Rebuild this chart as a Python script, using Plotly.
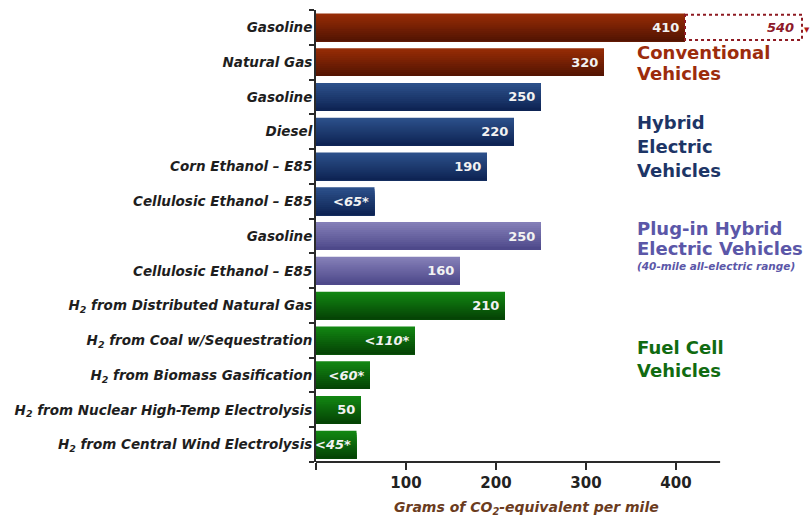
import plotly.graph_objects as go

# ---- data -------------------------------------------------------------
categories = [
    "Gasoline",
    "Natural Gas",
    "Gasoline",
    "Diesel",
    "Corn Ethanol – E85",
    "Cellulosic Ethanol – E85",
    "Gasoline",
    "Cellulosic Ethanol – E85",
    "H<sub>2</sub> from Distributed Natural Gas",
    "H<sub>2</sub> from Coal w/Sequestration",
    "H<sub>2</sub> from Biomass Gasification",
    "H<sub>2</sub> from Nuclear High-Temp Electrolysis",
    "H<sub>2</sub> from Central Wind Electrolysis",
]
values = [410, 320, 250, 220, 190, 65, 250, 160, 210, 110, 60, 50, 45]
value_labels = ["410", "320", "250", "220", "190", "<65*", "250", "160",
                "210", "<110*", "<60*", "50", "<45*"]
groups = ["conv", "conv", "hev", "hev", "hev", "hev", "phev", "phev",
          "fcv", "fcv", "fcv", "fcv", "fcv"]
gasoline_upper = 540          # upper estimate for conventional gasoline
x_ticks = [0, 100, 200, 300, 400]
x_tick_labels = ["", "100", "200", "300", "400"]

# ---- styling ----------------------------------------------------------
FONT = "DejaVu Sans, Verdana, sans-serif"
gradients = {                 # (top colour, bottom colour) of each bar family
    "conv": ((150, 44, 6), (84, 20, 2)),
    "hev": ((44, 80, 138), (14, 36, 84)),
    "phev": ((132, 127, 184), (78, 73, 138)),
    "fcv": ((18, 134, 18), (5, 68, 5)),
}
X_MAX = 550
AXIS_END = 449
BAR_W = 0.8
N_STRIPS = 14

y_pos = list(range(len(categories)))


def mix(c0, c1, t):
    return "rgb({},{},{})".format(*[round(a + (b - a) * t) for a, b in zip(c0, c1)])


fig = go.Figure()

# vertical shading: each strip starts lower and darker and runs to the bar bottom
for k in range(N_STRIPS):
    t = k / (N_STRIPS - 1)
    step = BAR_W / N_STRIPS
    fig.add_trace(go.Bar(
        x=values, y=y_pos, orientation="h",
        offset=-BAR_W / 2 + k * step, width=BAR_W - k * step,
        marker=dict(color=[mix(*gradients[g], t) for g in groups], line=dict(width=0)),
        hoverinfo="skip", showlegend=False,
    ))


def fmt(lbl):
    if lbl.startswith("<"):
        return "<i>" + lbl.replace("<", "&lt;") + "</i>"
    return lbl


# value labels inside the bar ends
fig.add_trace(go.Bar(
    x=values, y=y_pos, orientation="h", width=BAR_W,
    marker=dict(color="rgba(0,0,0,0)", line=dict(width=0)),
    text=[fmt(v) + "\u2009" for v in value_labels],
    textposition="inside", insidetextanchor="end", textangle=0,
    constraintext="none",
    textfont=dict(family=FONT, size=13, color="#f2f2f2", weight="bold"),
    cliponaxis=False, hoverinfo="skip", showlegend=False,
))

shapes = [
    # dotted extension showing the upper estimate for gasoline
    dict(type="rect", xref="x", yref="y", x0=values[0], x1=gasoline_upper,
         y0=-0.36, y1=0.36, line=dict(color="#8e1a22", width=2, dash="dot")),
    # x axis line, stopping short of the plot edge
    dict(type="line", xref="paper", yref="paper", x0=0, x1=AXIS_END / X_MAX,
         y0=0, y1=0, line=dict(color="#2a2a2a", width=2)),
]

annotations = [
    dict(x=gasoline_upper, y=0, xref="x", yref="y", xanchor="right", yanchor="middle",
         xshift=-6, text="<b><i>540</i></b>", showarrow=False,
         font=dict(family=FONT, size=13, color="#8e1a2a")),
    dict(x=gasoline_upper, y=0, xref="x", yref="y", xanchor="left", yanchor="middle",
         xshift=0, yshift=-3, text="▼", showarrow=False,
         font=dict(family=FONT, size=7, color="#b01818")),
    dict(x=0.426, y=-0.102, xref="paper", yref="paper", xanchor="center", yanchor="middle",
         text="Grams of CO<sub>2</sub>-equivalent per mile", showarrow=False,
         font=dict(family=FONT, size=14, color="#6b3c1e", weight="bold", style="italic")),
]

# group titles on the right (pixel rows converted to paper coordinates)
TOP_PX, BOT_PX, LEFT_PX, WIDTH_PX = 10, 462, 316, 495
group_titles = [
    ("Conventional", 53, "#9c2c0c", 18, "normal"),
    ("Vehicles", 73, "#9c2c0c", 18, "normal"),
    ("Hybrid", 122, "#1d3566", 18, "normal"),
    ("Electric", 146, "#1d3566", 18, "normal"),
    ("Vehicles", 170, "#1d3566", 18, "normal"),
    ("Plug-in Hybrid", 228, "#5b57a8", 18, "normal"),
    ("Electric Vehicles", 248, "#5b57a8", 18, "normal"),
    ("(40-mile all-electric range)", 266, "#5b57a8", 10.5, "italic"),
    ("Fuel Cell", 347, "#116b11", 18, "normal"),
    ("Vehicles", 370, "#116b11", 18, "normal"),
]
for txt, ypx, col, size, style in group_titles:
    annotations.append(dict(
        x=(635 - LEFT_PX) / WIDTH_PX, y=(BOT_PX - ypx) / (BOT_PX - TOP_PX),
        xref="paper", yref="paper", xanchor="left", yanchor="middle",
        text=txt, showarrow=False,
        font=dict(family=FONT, size=size, color=col, weight="bold", style=style),
    ))

fig.update_layout(
    width=811, height=519,
    margin=dict(l=316, r=0, t=10, b=57),
    paper_bgcolor="white", plot_bgcolor="white",
    barmode="overlay", bargap=0.2,
    shapes=shapes, annotations=annotations,
    xaxis=dict(
        range=[0, X_MAX], showgrid=False, zeroline=False, showline=False,
        tickmode="array", tickvals=x_ticks, ticktext=x_tick_labels,
        ticks="outside", ticklen=7, tickwidth=2, tickcolor="#2a2a2a",
        tickfont=dict(family=FONT, size=15, color="#222222", weight="bold"),
        fixedrange=True,
    ),
    yaxis=dict(
        range=[len(categories) - 0.5, -0.5], showgrid=False, zeroline=False,
        showline=True, linecolor="#2a2a2a", linewidth=2,
        tickmode="array", tickvals=y_pos, ticktext=categories, ticks="",
        minor=dict(tickvals=[i - 0.5 for i in range(len(categories) + 1)],
                   ticks="outside", ticklen=5, tickwidth=1.5, tickcolor="#2a2a2a"),
        tickfont=dict(family=FONT, size=13.5, color="#1e1e1e", weight="bold", style="italic"),
        ticklabelstandoff=-1,
        fixedrange=True,
    ),
)

fig.write_html("out.html")
